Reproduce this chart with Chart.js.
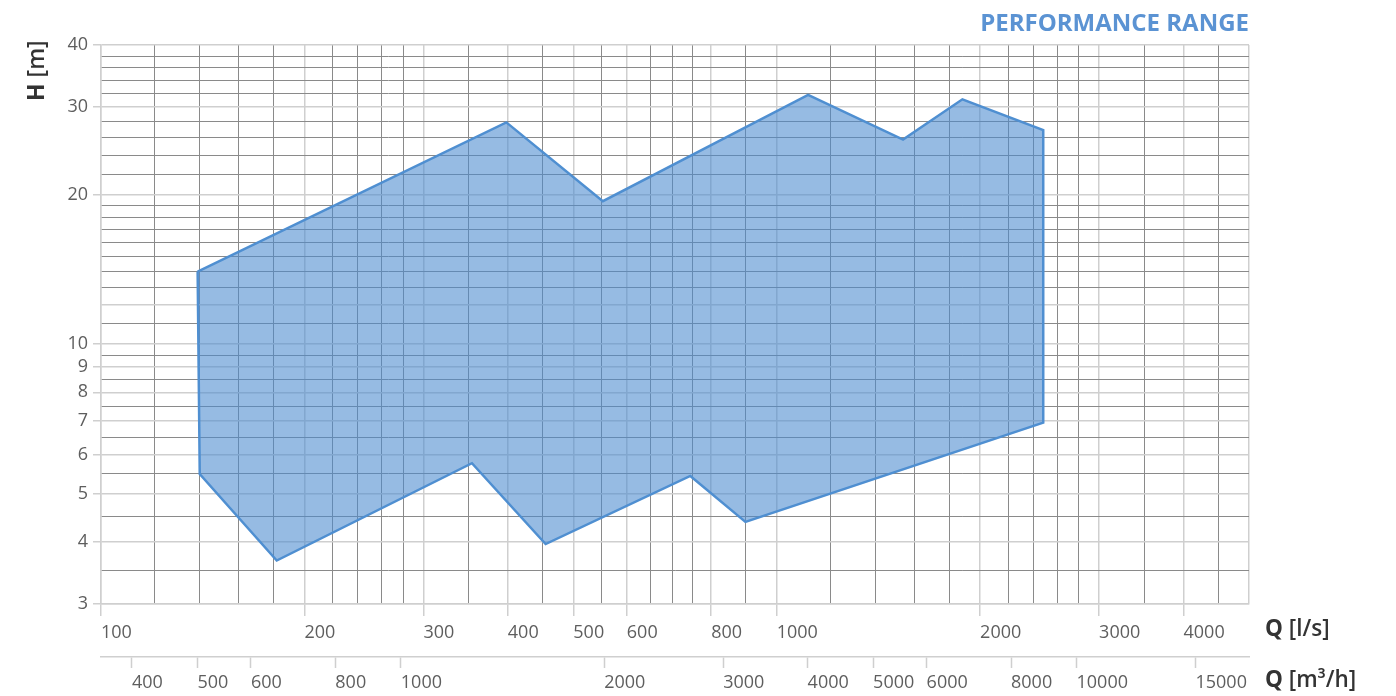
<!DOCTYPE html>
<html>
<head>
<meta charset="utf-8">
<script src="https://cdn.jsdelivr.net/npm/chart.js@4.4.1/dist/chart.umd.min.js"></script>
<style>
  html, body { margin: 0; padding: 0; background: #ffffff; }
  #wrap { width: 1396px; height: 696px; position: relative; }
</style>
</head>
<body>
<div id="wrap"><canvas id="c"></canvas></div>
<script>
// ---- data (performance range polygon, Q in l/s, H in m) ----
const flowLs = [139, 140, 182, 354, 455, 745, 899, 2480, 2480, 1883, 1538, 1113, 553, 398, 139];
const headM  = [14.0, 5.48, 3.67, 5.76, 3.96, 5.43, 4.39, 6.95, 26.97, 31.1, 25.8, 31.75, 19.4, 27.95, 14.0];

// ---- tick / grid values ----
const xMajorTicks = [100, 200, 300, 400, 500, 600, 800, 1000, 2000, 3000, 4000];
const xEdgeTicks  = [5000];
const xMinorTicks = [120, 140, 160, 180, 220, 240, 260, 280, 350, 450, 550, 650, 700, 750, 900,
                     1200, 1400, 1600, 1800, 2200, 2400, 2600, 2800, 3500, 4500];
const yMajorTicks = [3, 4, 5, 6, 7, 8, 9, 10, 20, 30, 40];
const yLightTicks = [12];
const yMinorTicks = [3.5, 4.5, 5.5, 6.5, 7.5, 8.5, 9.5, 11, 13, 14, 15, 16, 17, 18, 19,
                     22, 24, 26, 28, 32, 34, 36, 38];
const x2Ticks = [400, 500, 600, 800, 1000, 2000, 3000, 4000, 5000, 6000, 8000, 10000, 15000];
const xMin = 100, xMax = 5000, yMin = 3, yMax = 40;
const m3hPerLs = 3.6;

const chartTitle = 'PERFORMANCE RANGE';
const xTitle = ['Q', ' [l/s]'];
const x2Title = ['Q', ' [m³/h]'];
const yTitle = ['H', ' [m]'];

// ---- styles ----
const LIGHT = '#cfcfcf';
const DARK = '#8a8a8a';
const TICK_TEXT = '#5e5e5e';
const FONT = '"Open Sans", "Noto Sans", sans-serif';

const points = flowLs.map((q, i) => ({ x: q, y: headM[i] }));
const xMajorSet = new Set([...xMajorTicks, ...xEdgeTicks]);
const xLabelSet = new Set(xMajorTicks);
const yMajorSet = new Set([...yMajorTicks, ...yLightTicks]);
const yLabelSet = new Set(yMajorTicks);

const tickVal = (ctx) => (ctx.tick ? ctx.tick.value : null);

const axisTitles = {
  id: 'axisTitles',
  afterDraw(chart) {
    const { ctx, chartArea, scales } = chart;
    const drawMixed = (x, y, parts, size) => {
      let cx = x;
      parts.forEach((t, i) => {
        ctx.font = (i === 0 ? '700' : '600') + ' ' + size + 'px ' + FONT;
        ctx.fillText(t, cx, y);
        cx += ctx.measureText(t).width;
      });
    };
    ctx.save();
    ctx.fillStyle = '#333333';
    ctx.textBaseline = 'middle';
    ctx.textAlign = 'left';
    drawMixed(chartArea.right + 16, scales.x.top + 26, xTitle, 22.5);
    drawMixed(chartArea.right + 16, scales.x2.top + 24, x2Title, 22.5);
    ctx.translate(37, chartArea.top + 56);
    ctx.rotate(-Math.PI / 2);
    drawMixed(0, 0, yTitle, 23);
    ctx.restore();
  }
};

new Chart(document.getElementById('c'), {
  type: 'scatter',
  data: {
    datasets: [{
      data: points,
      showLine: true,
      fill: 'shape',
      backgroundColor: 'rgba(74, 138, 206, 0.58)',
      borderColor: '#4f8fd1',
      borderWidth: 2.5,
      pointRadius: 0,
      pointHoverRadius: 0,
      tension: 0
    }]
  },
  options: {
    responsive: true,
    maintainAspectRatio: false,
    animation: false,
    events: [],
    layout: { padding: { left: 50, right: 147, top: 9.6, bottom: 0 } },
    plugins: {
      legend: { display: false },
      tooltip: { enabled: false },
      title: {
        display: true,
        text: chartTitle,
        align: 'end',
        color: '#5b93d3',
        font: { family: FONT, size: 24, weight: '700' },
        padding: { top: 0, bottom: 6.6 }
      }
    },
    scales: {
      x: {
        type: 'logarithmic',
        position: 'bottom',
        min: xMin, max: xMax,
        afterBuildTicks: (s) => { s.ticks = [...xMajorTicks, ...xMinorTicks, ...xEdgeTicks].sort((a, b) => a - b).map(v => ({ value: v })); },
        afterFit: (s) => { s.height = 53; },
        ticks: {
          autoSkip: false, maxRotation: 0, minRotation: 0,
          align: 'start', padding: 6,
          color: TICK_TEXT,
          font: { family: FONT, size: 18 },
          callback: (v) => (xLabelSet.has(v) ? String(v) : '')
        },
        grid: {
          color: (c) => (xMajorSet.has(tickVal(c)) ? LIGHT : DARK),
          lineWidth: (c) => (xMajorSet.has(tickVal(c)) ? 1.5 : 1),
          tickColor: (c) => (xLabelSet.has(tickVal(c)) ? LIGHT : 'rgba(0,0,0,0)'),
          tickWidth: 1.5,
          tickLength: 12
        },
        border: { display: true, color: LIGHT, width: 1.5 }
      },
      x2: {
        type: 'logarithmic',
        position: 'bottom',
        min: xMin * m3hPerLs, max: xMax * m3hPerLs,
        afterBuildTicks: (s) => { s.ticks = x2Ticks.map(v => ({ value: v })); },
        afterFit: (s) => { s.height = 39; },
        ticks: {
          autoSkip: false, maxRotation: 0, minRotation: 0,
          align: 'start', padding: 4,
          color: TICK_TEXT,
          font: { family: FONT, size: 18 },
          callback: (v) => String(v)
        },
        grid: {
          drawOnChartArea: false,
          color: LIGHT,
          tickColor: LIGHT,
          tickWidth: 1.5,
          tickLength: 11
        },
        border: { display: true, color: LIGHT, width: 1.5 }
      },
      y: {
        type: 'logarithmic',
        position: 'left',
        min: yMin, max: yMax,
        afterBuildTicks: (s) => { s.ticks = [...yMajorTicks, ...yLightTicks, ...yMinorTicks].sort((a, b) => a - b).map(v => ({ value: v })); },
        afterFit: (s) => { s.width = 51; },
        ticks: {
          autoSkip: false,
          padding: 5,
          color: TICK_TEXT,
          font: { family: FONT, size: 18 },
          callback: (v) => (yLabelSet.has(v) ? String(v) : '')
        },
        grid: {
          color: (c) => (yMajorSet.has(tickVal(c)) ? LIGHT : DARK),
          lineWidth: (c) => (yMajorSet.has(tickVal(c)) ? 1.5 : 1),
          tickColor: (c) => (yLabelSet.has(tickVal(c)) ? LIGHT : 'rgba(0,0,0,0)'),
          tickWidth: 1.5,
          tickLength: 8
        },
        border: { display: true, color: LIGHT, width: 1.5 }
      }
    }
  },
  plugins: [axisTitles]
});
</script>
</body>
</html>
